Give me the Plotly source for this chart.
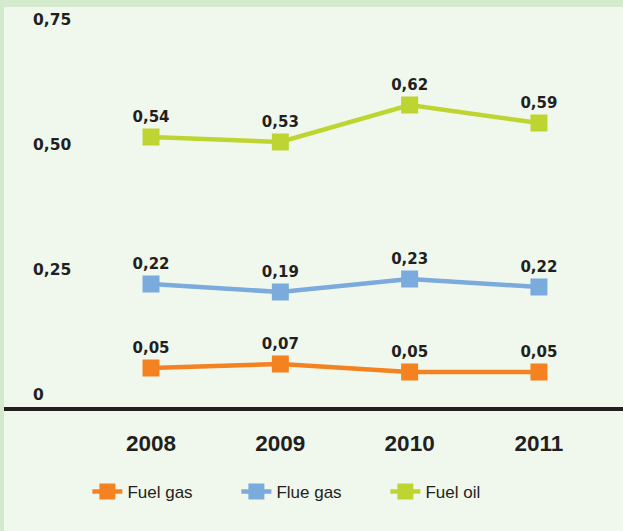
import plotly.graph_objects as go

years = ["2008", "2009", "2010", "2011"]
series_names = ["Fuel gas", "Flue gas", "Fuel oil"]
fuel_gas = [0.054, 0.062, 0.046, 0.046]
flue_gas = [0.222, 0.206, 0.232, 0.216]
fuel_oil = [0.516, 0.506, 0.580, 0.544]
fuel_gas_labels = ["0,05", "0,07", "0,05", "0,05"]
flue_gas_labels = ["0,22", "0,19", "0,23", "0,22"]
fuel_oil_labels = ["0,54", "0,53", "0,62", "0,59"]
y_tick_vals = [0, 0.25, 0.5, 0.75]
y_tick_text = ["0", "0,25", "0,50", "0,75"]

colors = ["#F58220", "#7BAADC", "#BED531"]
BG = "#F0F8EE"
BORDER = "#D3EACD"
TXT = "#231F20"
NARROW = "Liberation Sans, Arial, sans-serif"
WIDE = "DejaVu Sans, Verdana, sans-serif"

W, H = 623, 531
ML, MR, MT, MB = 4, 0, 7, 124
PW, PH = W - ML - MR, H - MT - MB

fig = go.Figure()
all_vals = [fuel_gas, flue_gas, fuel_oil]
all_labels = [fuel_gas_labels, flue_gas_labels, fuel_oil_labels]
for name, vals, labs, col in zip(series_names, all_vals, all_labels, colors):
    fig.add_trace(go.Scatter(
        x=years, y=vals, name=name, mode="lines+markers+text",
        text=labs, textposition="top center",
        textfont=dict(family=WIDE, size=15, color=TXT, weight="bold"),
        line=dict(color=col, width=4.5),
        marker=dict(symbol="square", size=17, color=col),
        hoverinfo="skip",
    ))

shapes = [
    dict(type="rect", xref="paper", yref="paper", x0=-ML / PW, x1=1, y0=1, y1=1 + MT / PH,
         fillcolor=BORDER, line=dict(width=0), layer="below"),
    dict(type="rect", xref="paper", yref="paper", x0=-ML / PW, x1=0, y0=-MB / PH, y1=1 + MT / PH,
         fillcolor=BORDER, line=dict(width=0), layer="below"),
]

fig.update_layout(
    width=W, height=H,
    margin=dict(l=ML, r=MR, t=MT, b=MB),
    paper_bgcolor=BG, plot_bgcolor=BG,
    showlegend=True,
    legend=dict(
        orientation="h", x=0.1347, xanchor="left", y=-0.1675, yanchor="top",
        font=dict(family=NARROW, size=17, color=TXT),
        entrywidth=104, entrywidthmode="pixels",
        bgcolor="rgba(0,0,0,0)", itemclick=False, itemdoubleclick=False,
    ),
    xaxis=dict(
        type="category", range=[-1.137, 3.65],
        showline=True, linecolor=TXT, linewidth=4,
        showgrid=False, zeroline=False,
        ticks="outside", ticklen=13, tickcolor="rgba(0,0,0,0)",
        tickfont=dict(family=NARROW, size=22.5, color=TXT, weight="bold"),
    ),
    yaxis=dict(
        range=[-0.024, 0.776],
        tickvals=y_tick_vals, ticktext=y_tick_text,
        ticklabelposition="inside", ticklabelstandoff=26,
        showgrid=False, zeroline=False, showline=False, ticks="",
        tickfont=dict(family=WIDE, size=15.5, color=TXT, weight="bold"),
    ),
    shapes=shapes,
)

fig.write_html(
    "out.html",
    config={"displayModeBar": False},
    post_script="document.body.style.margin='0';document.body.style.overflow='hidden';",
)
